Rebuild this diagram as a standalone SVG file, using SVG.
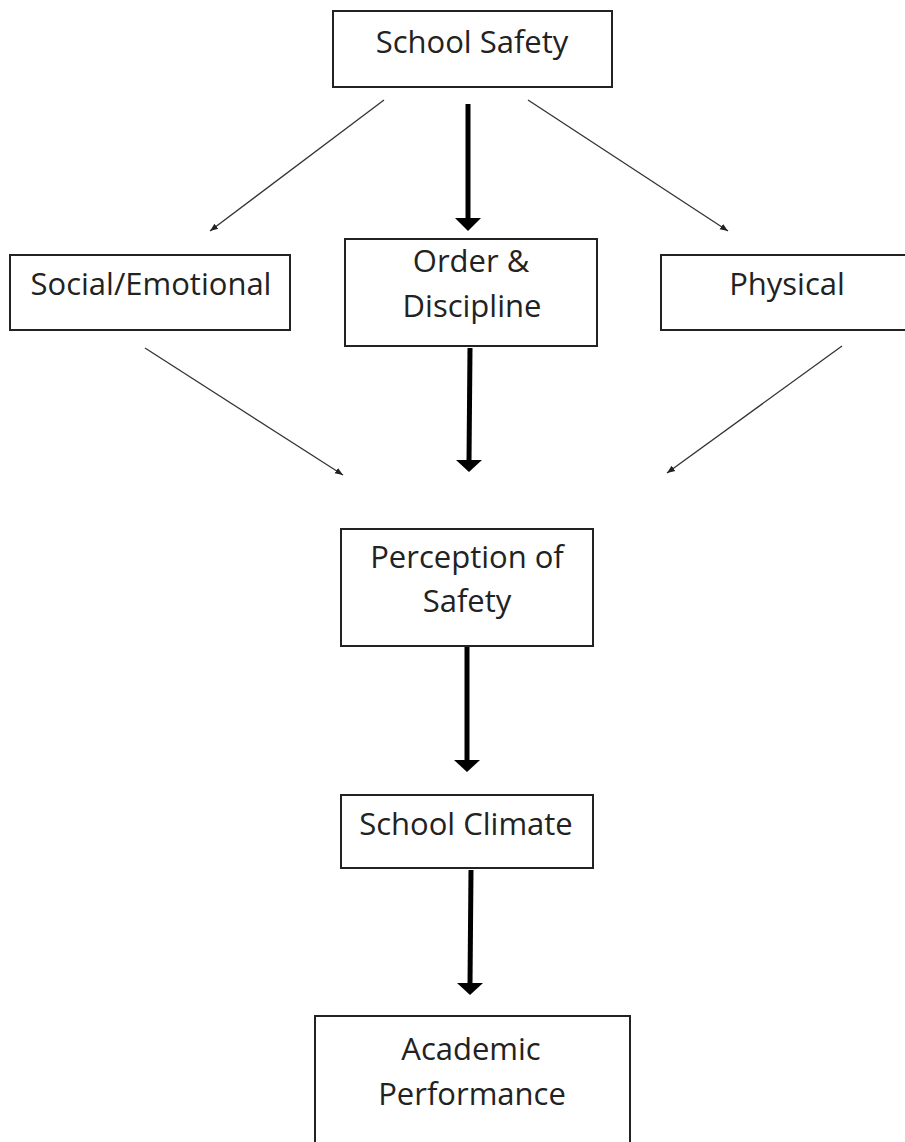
<svg xmlns="http://www.w3.org/2000/svg" width="905" height="1142" viewBox="0 0 905 1142">
<defs>
<marker id="thin" viewBox="0 0 10 10" refX="10" refY="5" markerWidth="8" markerHeight="8" markerUnits="userSpaceOnUse" orient="auto">
<path d="M0,1 L10,5 L0,9 Z" fill="#222"/>
</marker>
<style>
.box{fill:#fff;stroke:#222;stroke-width:2}
.lbl{font-family:"Open Sans","Liberation Sans",sans-serif;font-size:31px;fill:#222;text-anchor:middle}
.thin{stroke:#333;stroke-width:1.3;fill:none}
.thick{stroke:#000;stroke-width:5;fill:none}
.head{fill:#000}
</style>
</defs>
<rect width="905" height="1142" fill="#fff"/>
<g id="n-school-safety">
<rect class="box" x="333" y="11" width="279" height="76"/>
<text class="lbl" x="472" y="53">School Safety</text>
</g>
<g id="n-social-emotional">
<rect class="box" x="10" y="255" width="280" height="75"/>
<text class="lbl" x="151" y="295">Social/Emotional</text>
</g>
<g id="n-order-discipline">
<rect class="box" x="345" y="239" width="252" height="107"/>
<text class="lbl" x="471" y="272">Order &amp;</text>
<text class="lbl" x="472" y="317">Discipline</text>
</g>
<g id="n-physical">
<rect class="box" x="661" y="255" width="260" height="75"/>
<text class="lbl" x="787" y="295">Physical</text>
</g>
<g id="n-perception">
<rect class="box" x="341" y="529" width="252" height="117"/>
<text class="lbl" x="467" y="568">Perception of</text>
<text class="lbl" x="467" y="612">Safety</text>
</g>
<g id="n-school-climate">
<rect class="box" x="341" y="795" width="252" height="73"/>
<text class="lbl" x="466" y="835">School Climate</text>
</g>
<g id="n-academic">
<rect class="box" x="315" y="1016" width="315" height="140"/>
<text class="lbl" x="471" y="1060">Academic</text>
<text class="lbl" x="472" y="1105">Performance</text>
</g>
<g id="connectors">
<line class="thin" x1="384" y1="100" x2="210" y2="231" marker-end="url(#thin)"/>
<line class="thin" x1="528" y1="100" x2="728" y2="231" marker-end="url(#thin)"/>
<line class="thin" x1="145" y1="348" x2="343" y2="475" marker-end="url(#thin)"/>
<line class="thin" x1="842" y1="346" x2="667" y2="473" marker-end="url(#thin)"/>
<line class="thick" x1="468" y1="104" x2="468" y2="219"/>
<path class="head" d="M455,218 L481,218 L468,231 Z"/>
<line class="thick" x1="470" y1="348" x2="469" y2="461"/>
<path class="head" d="M456,460 L482,460 L469,472 Z"/>
<line class="thick" x1="467" y1="647" x2="467" y2="761"/>
<path class="head" d="M454,760 L480,760 L467,772 Z"/>
<line class="thick" x1="471" y1="870" x2="470" y2="984"/>
<path class="head" d="M457,983 L483,983 L470,995 Z"/>
</g>
</svg>
